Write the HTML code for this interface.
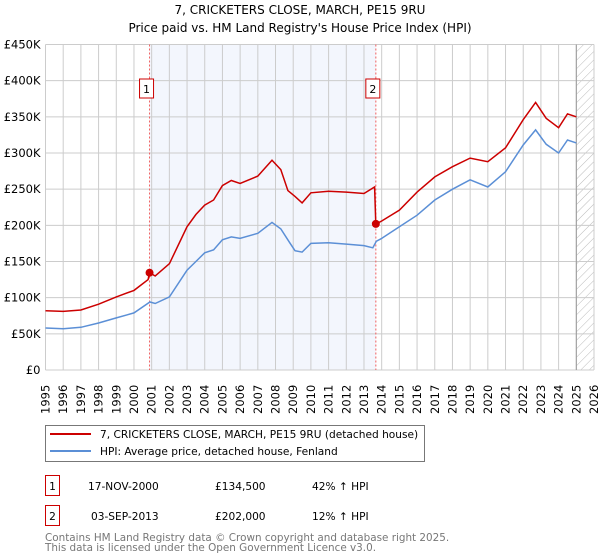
<!DOCTYPE html>
<html><head><meta charset="utf-8"><style>
body{margin:0;background:#fff;}
svg{display:block;font-family:"DejaVu Sans","Liberation Sans",sans-serif;}
</style></head><body>
<svg id="chart" width="600" height="560" viewBox="0 0 600 560">
<text x="300" y="14" text-anchor="middle" font-size="12">7, CRICKETERS CLOSE, MARCH, PE15 9RU</text>
<text x="300" y="32" text-anchor="middle" font-size="12">Price paid vs. HM Land Registry's House Price Index (HPI)</text>
<defs><pattern id="hatch" width="6" height="6" patternUnits="userSpaceOnUse" patternTransform="rotate(45)"><line x1="0" y1="0" x2="0" y2="6" stroke="#bbb" stroke-width="1"/></pattern></defs>
<g id="plot"></g>
<g>
<rect x="45.5" y="425.5" width="379" height="36" fill="#fff" stroke="#777"/>
<line x1="50" y1="434" x2="91" y2="434" stroke="#cc0000" stroke-width="2"/>
<text x="100" y="438" font-size="10.6">7, CRICKETERS CLOSE, MARCH, PE15 9RU (detached house)</text>
<line x1="50" y1="451" x2="91" y2="451" stroke="#5b8fd6" stroke-width="2"/>
<text x="100" y="455" font-size="10.6">HPI: Average price, detached house, Fenland</text>
</g>
<g>
<rect x="45.5" y="475.5" width="14" height="20" fill="#fff" stroke="#cc0000"/>
<text x="52.5" y="490" text-anchor="middle" font-size="10.6">1</text>
<text x="88" y="490" font-size="10.6">17-NOV-2000</text>
<text x="215" y="490" font-size="10.6">£134,500</text>
<text x="312" y="490" font-size="10.6">42% ↑ HPI</text>
<rect x="45.5" y="505.5" width="14" height="20" fill="#fff" stroke="#cc0000"/>
<text x="52.5" y="520" text-anchor="middle" font-size="10.6">2</text>
<text x="91" y="520" font-size="10.6">03-SEP-2013</text>
<text x="215" y="520" font-size="10.6">£202,000</text>
<text x="312" y="520" font-size="10.6">12% ↑ HPI</text>
</g>
<text x="45" y="541" font-size="10.4" fill="#777">Contains HM Land Registry data © Crown copyright and database right 2025.</text>
<text x="45" y="551" font-size="10.4" fill="#777">This data is licensed under the Open Government Licence v3.0.</text>
</svg>
<script>
const yearTicks=[1995,1996,1997,1998,1999,2000,2001,2002,2003,2004,2005,2006,2007,2008,2009,2010,2011,2012,2013,2014,2015,2016,2017,2018,2019,2020,2021,2022,2023,2024,2025,2026];
const priceTicks=[0,50,100,150,200,250,300,350,400,450];
const priceLabels=["£0","£50K","£100K","£150K","£200K","£250K","£300K","£350K","£400K","£450K"];
const hpiYears=[1995,1996,1997,1998,1999,2000,2000.9,2001.2,2002,2003,2003.5,2004,2004.5,2005,2005.5,2006,2007,2007.8,2008.3,2008.8,2009.1,2009.5,2010,2011,2012,2013,2013.5,2013.7,2014,2015,2016,2017,2018,2019,2020,2021,2022,2022.7,2023.3,2024,2024.5,2025];
const hpiValues=[58,57,59,65,72,79,94,92,101,138,150,162,166,180,184,182,189,204,195,176,165,163,175,176,174,172,169,178,182,198,214,235,250,263,253,274,311,332,312,300,318,314];
const propYears=[1995,1996,1997,1998,1999,2000,2000.8,2000.88,2001.2,2002,2003,2003.5,2004,2004.5,2005,2005.5,2006,2007,2007.8,2008.3,2008.7,2009.1,2009.5,2010,2011,2012,2013,2013.6,2013.67,2014,2015,2016,2017,2018,2019,2020,2021,2022,2022.7,2023.3,2024,2024.5,2025];
const propValues=[82,81,83,91,101,110,125,134.5,130,147,198,215,228,235,255,262,258,268,290,277,248,240,231,245,247,246,244,253,202,206,221,246,267,281,293,288,307,346,370,348,335,354,350];
const saleYears=[2000.88,2013.67];
const saleValues=[134.5,202];
const saleLabels=["1","2"];
const X0=45.5,X1=594,Y0=370,Y1=44.5;
const xs=y=>X0+(y-1995)/(2026-1995)*(X1-X0);
const ys=v=>Y0-v/450*(Y0-Y1);
const NS="http://www.w3.org/2000/svg";
const g=document.getElementById('plot');
function mk(t,a){const e=document.createElementNS(NS,t);for(const k in a)e.setAttribute(k,a[k]);g.appendChild(e);return e;}
let r=mk('rect',{x:xs(saleYears[0]),y:Y1,width:xs(saleYears[1])-xs(saleYears[0]),height:Y0-Y1,fill:'#f3f6fd'});


let h=mk('rect',{x:xs(2025),y:Y1,width:X1-xs(2025),height:Y0-Y1,fill:'url(#hatch)'});


yearTicks.forEach(y=>{
 const l=mk('line',{x1:xs(y),x2:xs(y),y1:Y1,y2:Y0,stroke:'#ccc','stroke-width':1});
 
 
 const t=mk('text',{x:0,y:0,'font-size':11.5,transform:`translate(${xs(y)+4},${Y0+44}) rotate(-90)`});
 
 
 t.textContent=y;
});
priceTicks.forEach((v,i)=>{
 const l=mk('line',{x1:X0,x2:X1,y1:ys(v),y2:ys(v),stroke:'#ccc','stroke-width':1});
 
 
 const t=mk('text',{x:X0-5,y:ys(v)+4,'font-size':11.5,'text-anchor':'end'});
 
 
 t.textContent=priceLabels[i];
});
const vl=mk('line',{x1:xs(2025),x2:xs(2025),y1:Y1,y2:Y0,stroke:'#999','stroke-width':1});


saleYears.forEach((y,i)=>{
 const l=mk('line',{x1:xs(y),x2:xs(y),y1:Y1,y2:Y0,stroke:'#f06060','stroke-width':1,'stroke-dasharray':'2,2'});
 
 
 const b=mk('rect',{x:xs(y)-10,y:79,width:14,height:19,fill:'#fff',stroke:'#cc0000'});
 
 
 const t=mk('text',{x:xs(y)-3,y:93,'font-size':11,'text-anchor':'middle'});
 
 
 t.textContent=saleLabels[i];
});
const pts=(a,b)=>a.map((y,i)=>xs(y).toFixed(1)+','+ys(b[i]).toFixed(1)).join(' ');
const hp=mk('polyline',{points:pts(hpiYears,hpiValues),fill:'none',stroke:'#5b8fd6','stroke-width':1.5});


const pp=mk('polyline',{points:pts(propYears,propValues),fill:'none',stroke:'#cc0000','stroke-width':1.5});


saleYears.forEach((y,i)=>{
 const c=mk('circle',{cx:xs(y),cy:ys(saleValues[i]),r:4,fill:'#cc0000'});
 
 
});
</script>
</body></html>
